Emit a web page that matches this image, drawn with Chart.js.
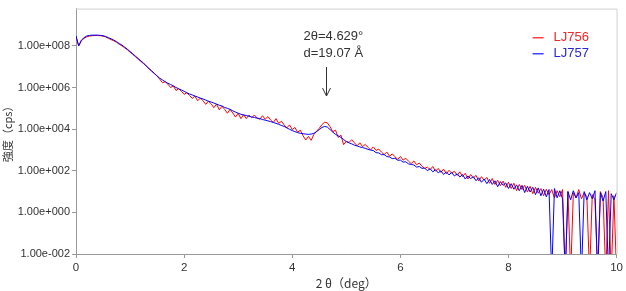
<!DOCTYPE html>
<html>
<head>
<meta charset="utf-8">
<script src="https://cdn.jsdelivr.net/npm/chart.js@4.4.1/dist/chart.umd.min.js"></script>
<style>
  html, body { margin: 0; padding: 0; background: #fff; }
  #wrap { width: 626px; height: 291px; }
</style>
</head>
<body>
<div id="wrap"><canvas id="xrdChart" width="626" height="291"></canvas></div>
<script>
// 2θ positions (deg)
const twoTheta = [
  0, 0.05, 0.1, 0.15, 0.2, 0.25, 0.3, 0.35, 0.4, 0.45, 0.5, 0.55, 0.6, 0.65, 0.7, 0.75, 0.8, 0.85, 0.9, 0.95,
  1, 1.05, 1.1, 1.15, 1.2, 1.25, 1.3, 1.35, 1.4, 1.45, 1.5, 1.55, 1.6, 1.65, 1.7, 1.75, 1.8, 1.85, 1.9, 1.95,
  2, 2.05, 2.1, 2.15, 2.2, 2.25, 2.3, 2.35, 2.4, 2.45, 2.5, 2.55, 2.6, 2.65, 2.7, 2.75, 2.8, 2.85, 2.9, 2.95,
  3, 3.05, 3.1, 3.15, 3.2, 3.25, 3.3, 3.35, 3.4, 3.45, 3.5, 3.55, 3.6, 3.65, 3.7, 3.75, 3.8, 3.85, 3.9, 3.95,
  4, 4.05, 4.1, 4.15, 4.2, 4.25, 4.3, 4.35, 4.4, 4.45, 4.5, 4.55, 4.6, 4.65, 4.7, 4.75, 4.8, 4.85, 4.9, 4.95,
  5, 5.05, 5.1, 5.15, 5.2, 5.25, 5.3, 5.35, 5.4, 5.45, 5.5, 5.55, 5.6, 5.65, 5.7, 5.75, 5.8, 5.85, 5.9, 5.95,
  6, 6.05, 6.1, 6.15, 6.2, 6.25, 6.3, 6.35, 6.4, 6.45, 6.5, 6.55, 6.6, 6.65, 6.7, 6.75, 6.8, 6.85, 6.9, 6.95,
  7, 7.05, 7.1, 7.15, 7.2, 7.25, 7.3, 7.35, 7.4, 7.45, 7.5, 7.55, 7.6, 7.65, 7.7, 7.75, 7.8, 7.85, 7.9, 7.95,
  8, 8.05, 8.1, 8.15, 8.2, 8.25, 8.3, 8.35, 8.4, 8.45, 8.5, 8.55, 8.6, 8.65, 8.7, 8.75, 8.8, 8.85, 8.9, 8.95,
  9, 9.05, 9.1, 9.15, 9.2, 9.25, 9.3, 9.35, 9.4, 9.45, 9.5, 9.55, 9.6, 9.65, 9.7, 9.75, 9.8, 9.85, 9.9, 9.95,
  10
];

// intensity (cps); 0.001 marks a point with no counts (falls below the axis floor)
const lj756 = [
  2.8e8, 1.0e8, 1.8e8, 2.3e8, 2.75e8, 2.95e8, 3.1e8, 3.15e8, 3.15e8, 3.1e8, 2.95e8, 2.7e8, 2.3e8, 2.0e8, 1.75e8, 1.5e8, 1.2e8, 1.0e8, 8.1e7, 6.5e7,
  5.0e7, 3.9e7, 3.0e7, 2.3e7, 1.8e7, 1.4e7, 1.05e7, 7.9e6, 6.0e6, 4.6e6, 3.6e6, 2.5e6, 1.7e6, 1.9e6, 1.45e6, 1.0e6, 1.2e6, 7.2e5, 8.7e5, 6.6e5,
  4.7e5, 5.6e5, 4.2e5, 3.0e5, 3.9e5, 2.3e5, 3.1e5, 2.3e5, 1.55e5, 2.2e5, 1.65e5, 1.07e5, 1.6e5, 8.5e4, 1.26e5, 8.9e4, 5.8e4, 8.9e4, 6.0e4, 3.8e4,
  5.8e4, 3.2e4, 5.0e4, 3.2e4, 4.7e4, 3.5e4, 4.8e4, 3.4e4, 3.0e4, 4.4e4, 3.0e4, 4.0e4, 2.75e4, 2.1e4, 3.2e4, 1.9e4, 2.4e4, 1.6e4, 1.15e4, 1.6e4,
  9.5e3, 1.2e4, 7.1e3, 8.9e3, 4.8e3, 3.0e3, 4.5e3, 2.9e3, 5.6e3, 7.9e3, 1.1e4, 1.65e4, 2.15e4, 2.0e4, 1.3e4, 7.6e3, 8.9e3, 4.0e3, 5.2e3, 1.8e3,
  2.6e3, 2.3e3, 3.1e3, 2.2e3, 1.6e3, 2.2e3, 1.45e3, 1.85e3, 1.35e3, 1.0e3, 1.4e3, 950, 1.1e3, 790, 600, 790, 500, 650, 470, 355,
  490, 325, 400, 290, 220, 295, 195, 235, 165, 130, 150, 112, 160, 95, 130, 83, 120, 71, 105, 76,
  95, 60, 89, 52, 76, 40, 66, 45, 60, 32, 52, 35, 48, 25, 42, 22, 35, 19, 32, 16,
  28, 14, 25, 11, 22, 12.5, 20, 9.5, 18, 7.9, 16, 8.3, 14, 6.3, 13, 7.1, 12.5, 5.0, 11, 5.6,
  12.5, 0.001, 10, 0.001, 8.9, 5.0, 12.5, 4.5, 8.9, 5.6, 0.001, 7.1, 4.0, 0.001, 10, 5.0, 0.001, 11, 0.001, 6.3,
  0.001
];

const lj757 = [
  3.0e8, 1.0e8, 1.9e8, 2.5e8, 3.0e8, 3.2e8, 3.3e8, 3.3e8, 3.3e8, 3.2e8, 3.1e8, 2.8e8, 2.5e8, 2.2e8, 1.9e8, 1.6e8, 1.3e8, 1.1e8, 8.7e7, 6.9e7,
  5.4e7, 4.2e7, 3.2e7, 2.5e7, 1.9e7, 1.5e7, 1.1e7, 8.3e6, 6.3e6, 4.8e6, 3.6e6, 2.8e6, 2.3e6, 1.9e6, 1.6e6, 1.4e6, 1.2e6, 1.0e6, 8.7e5, 7.6e5,
  6.6e5, 5.6e5, 4.9e5, 4.4e5, 3.9e5, 3.5e5, 3.1e5, 2.8e5, 2.5e5, 2.2e5, 2.0e5, 1.8e5, 1.6e5, 1.4e5, 1.3e5, 1.1e5, 1.0e5, 8.9e4, 7.6e4, 6.6e4,
  5.8e4, 5.2e4, 4.8e4, 4.5e4, 4.2e4, 3.9e4, 3.6e4, 3.4e4, 3.2e4, 2.9e4, 2.7e4, 2.5e4, 2.3e4, 2.1e4, 1.9e4, 1.7e4, 1.5e4, 1.35e4, 1.15e4, 9.8e3,
  8.5e3, 7.6e3, 6.8e3, 6.3e3, 6.0e3, 5.8e3, 5.6e3, 5.8e3, 6.3e3, 7.6e3, 9.5e3, 1.2e4, 1.35e4, 1.25e4, 9.5e3, 7.2e3, 5.6e3, 4.8e3, 4.0e3, 3.2e3,
  2.5e3, 2.2e3, 1.95e3, 1.7e3, 1.55e3, 1.4e3, 1.3e3, 1.2e3, 1.07e3, 980, 930, 740, 720, 590, 600, 480, 460, 380, 400, 320,
  325, 260, 270, 215, 200, 190, 150, 160, 130, 135, 100, 126, 89, 112, 79, 100, 66, 89, 63, 83,
  56, 72, 50, 66, 40, 56, 42, 52, 33, 46, 28, 40, 24, 38, 22, 33, 17, 30, 20, 26,
  14, 24, 13, 21, 11, 20, 8.9, 18, 9.5, 16, 7.1, 15, 6.3, 13, 5.6, 12.5, 0.001, 14, 5.0, 11,
  4.5, 0.001, 10, 4.0, 11, 5.0, 8.9, 0.001, 10, 4.0, 8.9, 4.5, 11, 0.001, 8.9, 3.5, 10, 0.001, 7.9, 4.0,
  8.9
];

const seriesNames = ['LJ756', 'LJ757'];
const yTickValues = [1e-2, 1e0, 1e2, 1e4, 1e6, 1e8];
const yTickLabels = ['1.00e-002', '1.00e+000', '1.00e+002', '1.00e+004', '1.00e+006', '1.00e+008'];
const peakTwoTheta = 4.629;
const peakLabels = ['2θ=4.629°', 'd=19.07 Å'];

const latin = '"Liberation Sans", Arial, sans-serif';
const cjk = '"Noto Sans CJK JP", "Liberation Sans", sans-serif';
const lineColors = ['#ff0000', '#0000ff'];
const textColors = ['#f02828', '#2828d8'];

// frame, peak note and legend drawn over the plot
const overlayPlugin = {
  id: 'overlay',
  afterDraw(chart) {
    const { ctx, chartArea: a, scales } = chart;
    ctx.save();
    ctx.strokeStyle = '#d0d0d0';
    ctx.lineWidth = 1;
    ctx.beginPath();
    ctx.moveTo(a.left, a.top + 0.5);
    ctx.lineTo(a.right + 0.5, a.top + 0.5);
    ctx.lineTo(a.right + 0.5, a.bottom);
    ctx.stroke();

    const px = Math.round(scales.x.getPixelForValue(peakTwoTheta)) + 0.5;
    ctx.fillStyle = '#333';
    ctx.font = '13px ' + latin;
    ctx.textBaseline = 'middle';
    ctx.textAlign = 'left';
    ctx.fillText(peakLabels[0], px - 23, 36);
    ctx.fillText(peakLabels[1], px - 23, 53);
    ctx.strokeStyle = '#333';
    ctx.beginPath();
    ctx.moveTo(px, 67);
    ctx.lineTo(px, 96);
    ctx.moveTo(px - 4, 88);
    ctx.lineTo(px, 96);
    ctx.lineTo(px + 4, 88);
    ctx.stroke();

    seriesNames.forEach((name, i) => {
      const y = 37 + 16 * i;
      ctx.fillStyle = lineColors[i];
      ctx.globalAlpha = 0.75;
      ctx.fillRect(a.right - 84, y, 11, 1.5);
      ctx.globalAlpha = 1;
      ctx.fillStyle = textColors[i];
      ctx.fillText(name, a.right - 63, y);
    });
    ctx.restore();
  }
};

const ctx = document.getElementById('xrdChart').getContext('2d');
const xrdChart = new Chart(ctx, {
  type: 'line',
  data: {
    datasets: [
      {
        label: seriesNames[0],
        data: twoTheta.map((x, i) => ({ x, y: lj756[i] })),
        borderColor: lineColors[0],
        borderWidth: 1,
        order: 2
      },
      {
        label: seriesNames[1],
        data: twoTheta.map((x, i) => ({ x, y: lj757[i] })),
        borderColor: lineColors[1],
        borderWidth: 1,
        order: 1
      }
    ]
  },
  options: {
    responsive: false,
    animation: false,
    events: [],
    devicePixelRatio: 1,
    layout: { padding: { top: 4, right: 7, left: 0, bottom: 0 } },
    elements: { point: { radius: 0 }, line: { tension: 0 } },
    scales: {
      x: {
        type: 'linear',
        min: 0,
        max: 10,
        ticks: { stepSize: 2, color: '#333', font: { size: 11.5, family: latin }, padding: 3, maxRotation: 0 },
        grid: { drawOnChartArea: false, color: '#999', tickLength: 4 },
        border: { color: '#999' },
        title: { display: true, text: '2 θ（deg）', color: '#333', font: { size: 12, family: cjk }, padding: { top: 0, bottom: 0 } },
        afterFit(scale) { scale.height = 37; }
      },
      y: {
        type: 'logarithmic',
        min: 0.01,
        max: 6.2e9,
        afterBuildTicks(scale) { scale.ticks = yTickValues.map(v => ({ value: v })); },
        ticks: {
          callback: (v, i) => yTickLabels[i],
          color: '#333',
          font: { size: 11, family: latin },
          padding: 2,
          autoSkip: false
        },
        grid: { drawOnChartArea: false, color: '#999', tickLength: 4 },
        border: { color: '#999' },
        title: { display: true, text: '強度（cps）', color: '#333', font: { size: 11, family: cjk }, padding: { top: 1, bottom: 0 } },
        afterFit(scale) { scale.width = 76; }
      }
    },
    plugins: {
      legend: { display: false },
      tooltip: { enabled: false }
    }
  },
  plugins: [overlayPlugin]
});
</script>
</body>
</html>
